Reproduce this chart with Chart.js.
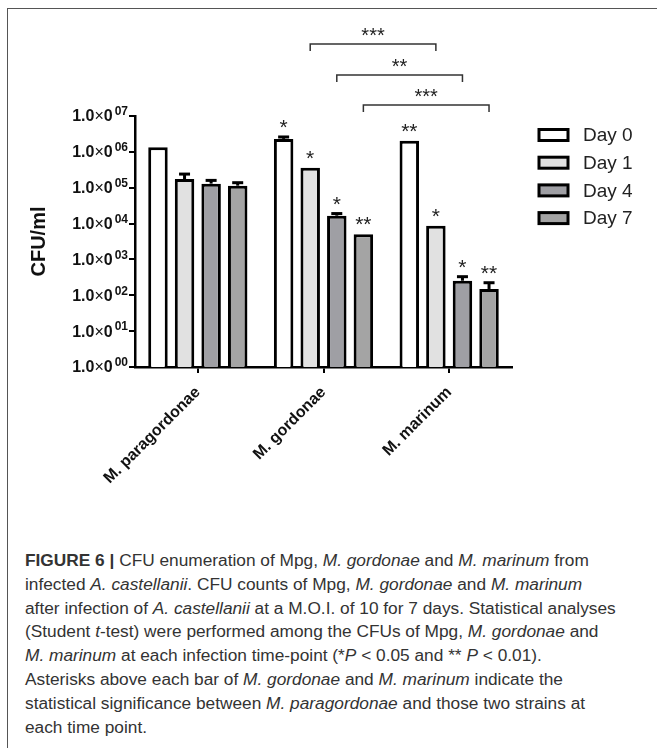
<!DOCTYPE html>
<html lang="en">
<head>
  <meta charset="UTF-8">
  <title>CFU enumeration</title>
  <script src="https://cdn.jsdelivr.net/npm/chart.js"></script>
  <style>
    body {
      margin: 0;
      width: 657px;
      height: 748px;
      overflow: hidden;
      position: relative;
      background: #fff;
      font-family: Arial, "Liberation Sans", sans-serif;
    }
    .frame {
      position: absolute;
      left: 7px;
      top: 8px;
      right: 0;
      bottom: 0;
      border-top: 1.5px solid #555;
      border-left: 1.5px solid #555;
    }
    .chart-box {
      position: absolute;
      left: 0;
      top: 0;
      width: 657px;
      height: 510px;
    }
    .caption {
      position: absolute;
      left: 25px;
      top: 549px;
      font-family: "Liberation Sans Narrow", "Arial Narrow", Arial, sans-serif;
      font-size: 17.3px;
      line-height: 23.8px;
      color: #333;
      white-space: nowrap;
    }
  </style>
</head>
<body>
  <div class="frame"></div>
  <div class="chart-box">
    <canvas id="cfuChart" width="657" height="510"></canvas>
  </div>
  <div class="caption">
    <b>FIGURE 6 |</b> CFU enumeration of Mpg, <i>M. gordonae</i> and <i>M. marinum</i> from<br>
    infected <i>A. castellanii</i>. CFU counts of Mpg, <i>M. gordonae</i> and <i>M. marinum</i><br>
    after infection of <i>A. castellanii</i> at a M.O.I. of 10 for 7 days. Statistical analyses<br>
    (Student <i>t</i>-test) were performed among the CFUs of Mpg, <i>M. gordonae</i> and<br>
    <i>M. marinum</i> at each infection time-point (*<i>P</i> &lt; 0.05 and ** <i>P</i> &lt; 0.01).<br>
    Asterisks above each bar of <i>M. gordonae</i> and <i>M. marinum</i> indicate the<br>
    statistical significance between <i>M. paragordonae</i> and those two strains at<br>
    each time point.
  </div>

  <script>
    // data
    const strains = ['M. paragordonae', 'M. gordonae', 'M. marinum'];
    const days = ['Day 0', 'Day 1', 'Day 4', 'Day 7'];

    const day0 = [1.35e6, 2.3e6, 2.05e6];
    const day1 = [1.75e5, 3.6e5, 8.7e3];
    const day4 = [1.3e5, 1.66e4, 255];
    const day7 = [1.14e5, 5.0e3, 150];

    // upper end of error bars (null = not visible)
    const err0 = [null, 2.6e6, null];
    const err1 = [2.4e5, null, null];
    const err4 = [1.6e5, 1.9e4, 330];
    const err7 = [1.38e5, null, 224];

    const stars0 = ['', '*', '**'];
    const stars1 = ['', '*', '*'];
    const stars4 = ['', '*', '*'];
    const stars7 = ['', '**', '**'];

    // gordonae vs marinum brackets, by dataset index
    const bracketDays = [1, 2, 3];
    const bracketLabels = ['***', '**', '***'];
    const bracketLift = [72, 41, 11];

    const yTicks = [1, 1e1, 1e2, 1e3, 1e4, 1e5, 1e6, 1e7];
    const yTickExp = ['00', '01', '02', '03', '04', '05', '06', '07'];

    const fills = ['#ffffff', '#e1e1e1', '#9f9fa4', '#a4a4a4'];
    const allValues = [day0, day1, day4, day7];
    const allErr = [err0, err1, err4, err7];
    const allStars = [stars0, stars1, stars4, stars7];

    const decorations = {
      id: 'decorations',
      afterDatasetsDraw(chart) {
        const c = chart.ctx;
        const y = chart.scales.y;
        const top = chart.chartArea.top;
        c.save();

        // error bars and asterisks
        allValues.forEach((vals, d) => {
          const meta = chart.getDatasetMeta(d);
          meta.data.forEach((bar, i) => {
            const e = allErr[d][i];
            let peak = vals[i];
            if (e) {
              peak = e;
              const ey = y.getPixelForValue(e);
              c.fillStyle = '#000';
              c.fillRect(bar.x - 1.5, ey, 3, bar.y - ey);
              c.fillRect(bar.x - 5.5, ey - 1.5, 11, 3);
            }
            const s = allStars[d][i];
            if (s) {
              c.fillStyle = '#222';
              c.font = '21px Arial';
              c.textAlign = 'center';
              c.textBaseline = 'alphabetic';
              c.fillText(s, bar.x, y.getPixelForValue(peak) - 3);
            }
          });
        });

        // brackets
        c.strokeStyle = '#333';
        c.lineWidth = 1.5;
        bracketDays.forEach((d, k) => {
          const meta = chart.getDatasetMeta(d);
          const x1 = meta.data[1].x;
          const x2 = meta.data[2].x;
          const by = top - bracketLift[k];
          c.beginPath();
          c.moveTo(x1, by + 7);
          c.lineTo(x1, by);
          c.lineTo(x2, by);
          c.lineTo(x2, by + 7);
          c.stroke();
          c.fillStyle = '#222';
          c.font = '20px Arial';
          c.textAlign = 'center';
          c.textBaseline = 'alphabetic';
          c.fillText(bracketLabels[k], (x1 + x2) / 2, by - 2);
        });

        // y tick labels 1.0x10^n
        yTicks.forEach((v, i) => {
          const ty = y.getPixelForValue(v) + 1;
          const parts = [
            ['1.0', 'bold 16px Arial', 0, 0],
            ['\u00d7', '16px Arial', 0, 0],
            ['0', 'bold 16px Arial', 0, 2],
            [yTickExp[i], 'bold 12px Arial', -5, 0]
          ];
          let w = 0;
          parts.forEach(p => { c.font = p[1]; w += c.measureText(p[0]).width + p[3]; });
          let x = 128 - w;
          c.fillStyle = '#111';
          c.textAlign = 'left';
          c.textBaseline = 'middle';
          parts.forEach(p => {
            c.font = p[1];
            c.fillText(p[0], x, ty + p[2]);
            x += c.measureText(p[0]).width + p[3];
          });
        });

        // legend
        days.forEach((d, i) => {
          const ly = 135 + i * 27.7;
          c.fillStyle = fills[i];
          c.fillRect(539, ly - 5.5, 29, 11);
          c.strokeStyle = '#000';
          c.lineWidth = 3;
          c.strokeRect(539, ly - 5.5, 29, 11);
          c.fillStyle = '#222';
          c.font = '19px Arial';
          c.textAlign = 'left';
          c.textBaseline = 'middle';
          c.fillText(d, 583, ly + 1);
        });

        c.restore();
      }
    };

    const ctx = document.getElementById('cfuChart').getContext('2d');

    new Chart(ctx, {
      type: 'bar',
      data: {
        labels: strains,
        datasets: allValues.map((vals, i) => ({
          label: days[i],
          data: vals,
          backgroundColor: fills[i],
          borderColor: '#000',
          borderWidth: 3,
          categoryPercentage: 0.846,
          barPercentage: 0.733
        }))
      },
      options: {
        responsive: false,
        animation: false,
        layout: {
          padding: { top: 116, right: 145, left: 0, bottom: 0 }
        },
        plugins: {
          legend: { display: false },
          tooltip: { enabled: false }
        },
        scales: {
          x: {
            afterFit: s => { s.height = 143; },
            grid: {
              display: true,
              offset: false,
              drawOnChartArea: false,
              tickLength: 6,
              color: '#000',
              lineWidth: 2
            },
            border: { color: '#000', width: 2.5 },
            ticks: {
              color: '#111',
              font: { family: 'Arial', size: 16, weight: 'bold' },
              maxRotation: 45,
              minRotation: 45,
              padding: 10
            }
          },
          y: {
            type: 'logarithmic',
            min: 1,
            max: 1e7,
            afterFit: s => { s.width = 135; },
            afterBuildTicks: s => { s.ticks = yTicks.map(v => ({ value: v })); },
            grid: {
              display: true,
              drawOnChartArea: false,
              drawTicks: true,
              tickLength: 6,
              color: '#000',
              lineWidth: 2
            },
            border: { color: '#000', width: 2.5 },
            ticks: { display: true, color: 'rgba(0,0,0,0)', callback: () => '' },
            title: {
              display: true,
              text: 'CFU/ml',
              color: '#111',
              font: { family: 'Arial', size: 20, weight: 'bold' },
              padding: { top: 27, bottom: 0 }
            }
          }
        }
      },
      plugins: [decorations]
    });
  </script>
</body>
</html>
